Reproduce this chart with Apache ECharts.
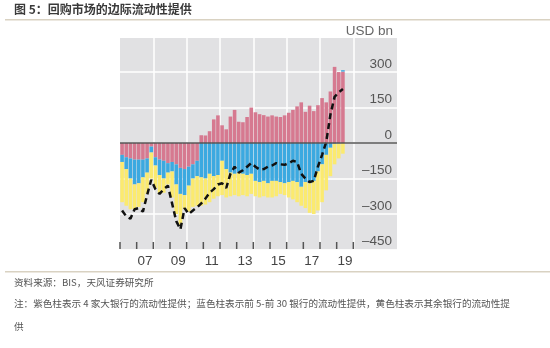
<!DOCTYPE html>
<html><head><meta charset="utf-8">
<script src="https://cdn.jsdelivr.net/npm/echarts@6/dist/echarts.min.js"></script>
<style>html,body{margin:0;padding:0;background:#fff;}#c{width:550px;height:348px;}</style>
</head><body><div id="c"></div>
<script>
// Quarterly periods 2006Q1 .. 2019Q2
const quarters = [];
for (let y = 2006; y <= 2019; y++) for (let q = 1; q <= 4; q++) { if (y === 2019 && q > 2) break; quarters.push(y + 'Q' + q); }

// USD bn
const big4 = [-50,-60,-65,-70,-70,-70,-65,-15,-60,-70,-75,-85,-80,-90,-105,-110,-100,-90,-75,
  33,32,50,100,117,75,58,112,140,90,88,110,150,130,122,118,112,117,112,110,117,128,140,155,172,132,158,135,160,190,172,218,322,300,302];
const top5to30 = [-30,-50,-85,-105,-100,-75,-60,-25,-35,-65,-75,-40,-40,-85,-110,-110,-80,-60,-65,
  -145,-150,-130,-140,-135,-75,-110,-125,-130,-125,-130,-135,-130,-160,-165,-160,-170,-160,-160,-165,-170,-165,-160,-165,-185,-165,-170,-160,-120,-90,-50,-20,-3,-2,6];
const otherBanks = [-170,-155,-130,-105,-100,-105,-90,-110,-95,-80,-60,-50,-110,-125,-130,-60,-110,-120,-125,
  -120,-110,-120,-95,-90,-145,-120,-100,-90,-100,-90,-90,-85,-65,-65,-65,-60,-70,-65,-50,-50,-65,-78,-85,-80,-110,-125,-140,-165,-160,-150,-120,-87,-63,-45];
const total = [-285,-310,-320,-280,-275,-290,-220,-155,-195,-215,-195,-180,-255,-330,-365,-275,-300,-285,-272,
  -255,-235,-210,-195,-175,-170,-190,-130,-100,-125,-115,-100,-85,-100,-112,-110,-100,-95,-85,-90,-92,-85,-75,-80,-130,-150,-165,-160,-100,-50,5,120,195,215,228];

const yTicks = [-450, -300, -150, 0, 150, 300];
const yearTicks = [2006,2007,2008,2009,2010,2011,2012,2013,2014,2015,2016,2017,2018,2019,2020];
const gridYears = [2008,2010,2012,2014,2016,2018,2020];
const yearLabels = ['07','09','11','13','15','17','19'];

const X_MIN = 2006, X_MAX = 2022.62, Y_MIN = -450, Y_MAX = 444;
const qx = s => { const y = +s.slice(0,4), q = +s.slice(5); return y + (q - 0.5) / 4; };
// rows are [value, period position]; encode maps them to y and x
const rows = arr => quarters.map((s, i) => [arr[i], qx(s)]);
const labelPos = yearLabels.map(l => 2000 + parseInt(l, 10) + 0.5);
const fmtY = v => v < 0 ? '\u2013' + Math.abs(v) : String(v);
const axisFont = 'Liberation Sans, Arial, sans-serif';

const chart = echarts.init(document.getElementById('c'), null, {renderer: 'canvas'});
const barCommon = {type: 'bar', stack: 'banks', barWidth: 3.6, silent: true, animation: false, encode: {x: 1, y: 0}};
chart.setOption({
  animation: false,
  grid: {left: 120, right: 153, top: 38, bottom: 98.5, show: true, backgroundColor: '#e1e1e3', borderWidth: 0},
  xAxis: {
    type: 'value', min: X_MIN, max: X_MAX,
    splitLine: {show: false},
    axisLine: {show: false, onZero: false},
    axisTick: {show: false},
    axisLabel: {customValues: labelPos, margin: 5, color: '#444', fontSize: 13.5, fontFamily: axisFont,
      formatter: v => yearLabels[labelPos.indexOf(v)] || ''}
  },
  yAxis: {
    type: 'value', position: 'right', min: Y_MIN, max: Y_MAX, interval: 150,
    axisLine: {show: false}, axisTick: {show: false},
    splitLine: {show: true, showMaxLine: false, lineStyle: {color: '#ffffff', width: 1.5}},
    axisLabel: {inside: true, margin: 5, color: '#555', fontSize: 13.5, fontFamily: axisFont,
      verticalAlign: 'bottom', padding: [0, 0, 1, 0], showMaxLabel: false,
      formatter: v => yTicks.indexOf(v) >= 0 ? fmtY(v) : ''}
  },
  series: [
    Object.assign({}, barCommon, {name: '4家大银行', data: rows(big4), itemStyle: {color: '#d67990'},
      markLine: {silent: true, symbol: 'none', z: 1, animation: false, label: {show: false},
        lineStyle: {color: '#ffffff', width: 1.5, type: 'solid'}, emphasis: {disabled: true},
        data: gridYears.map(v => ({xAxis: v}))}}),
    Object.assign({}, barCommon, {name: '前5-前30银行', data: rows(top5to30), itemStyle: {color: '#3ca9e0'}}),
    Object.assign({}, barCommon, {name: '其余银行', data: rows(otherBanks), itemStyle: {color: '#fbea6f'}}),
    {type: 'line', name: '合计', data: rows(total), encode: {x: 1, y: 0}, symbol: 'none', z: 4, silent: true,
      lineStyle: {color: '#111', width: 2.5, type: [6, 4]},
      markLine: {silent: true, symbol: 'none', z: 5, animation: false, label: {show: false},
        lineStyle: {color: '#555', width: 1.5, type: 'solid'}, emphasis: {disabled: true},
        data: [{yAxis: 0}]}}
  ],
  graphic: [
    {type: 'text', left: 14, top: 3, style: {text: '图 5：回购市场的边际流动性提供', fill: '#3a3a3a', font: 'bold 12px "Noto Sans CJK SC", sans-serif'}},
    {type: 'rect', shape: {x: 5, y: 19, width: 545, height: 1.5}, style: {fill: '#d9d2c2'}},
    {type: 'text', right: 157, top: 24, style: {text: 'USD bn', fill: '#666', font: '13.5px "Liberation Sans", Arial, sans-serif'}},
    {type: 'rect', shape: {x: 5, y: 271, width: 545, height: 1.5}, style: {fill: '#d9d2c2'}},
    {type: 'text', left: 14, top: 278, style: {text: '资料来源：BIS，天风证券研究所', fill: '#555', font: '9.6px "Noto Sans CJK SC", sans-serif'}},
    {type: 'text', left: 14, top: 299, style: {text: '注：紫色柱表示 4 家大银行的流动性提供；蓝色柱表示前 5-前 30 银行的流动性提供，黄色柱表示其余银行的流动性提', fill: '#555', font: '9.6px "Noto Sans CJK SC", sans-serif'}},
    {type: 'text', left: 14, top: 322, style: {text: '供', fill: '#555', font: '9.6px "Noto Sans CJK SC", sans-serif'}}
  ]
});

// Year tick marks at the bottom of the plot, placed through the chart's own scales
const tickEls = yearTicks.map((v, i) => {
  const p = chart.convertToPixel({gridIndex: 0}, [v, Y_MIN]);
  return {type: 'line', id: 'tick' + i, z: 100, silent: true,
    shape: {x1: p[0], y1: p[1] - 0.5, x2: p[0], y2: p[1] - 7.5},
    style: {stroke: '#555', lineWidth: 1.5}};
});
chart.setOption({graphic: tickEls});
</script></body></html>
